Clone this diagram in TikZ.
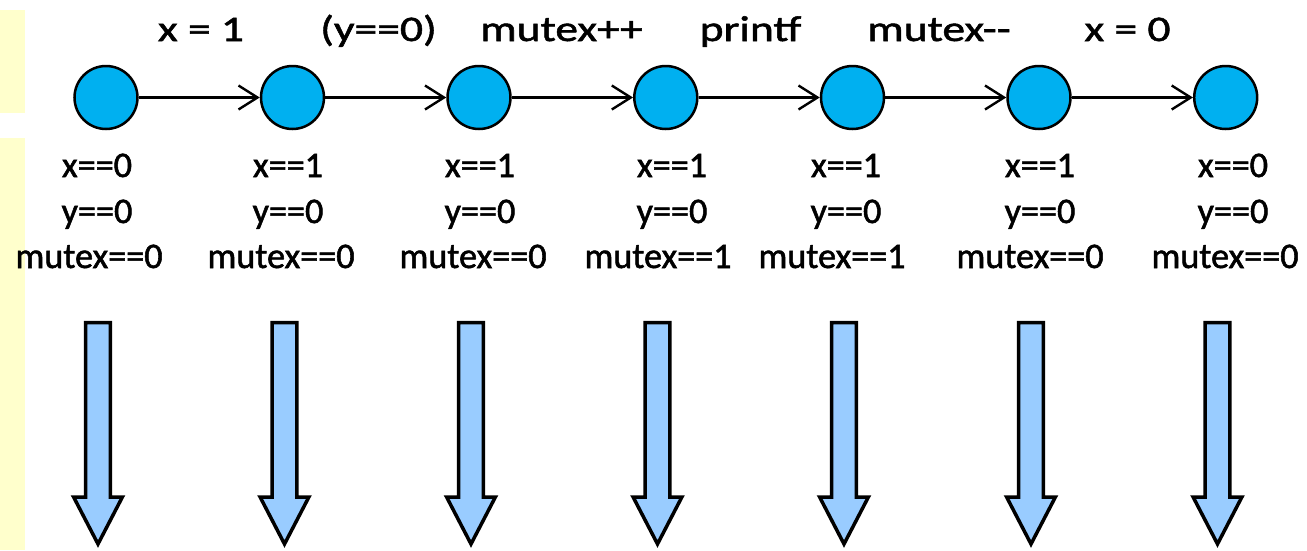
\documentclass[tikz,border=0pt]{standalone}
\usepackage{fontspec}
\setmainfont{Carlito}
\newfontfamily\toplabelfont{Carlito}[FakeStretch=1.265,FakeBold=1.5]
\newfontfamily\statefont{Carlito}[FakeStretch=1.005,FakeBold=1.5]
\usetikzlibrary{arrows.meta}
\definecolor{stripyellow}{HTML}{FFFFCC}
\definecolor{statecyan}{HTML}{00B0F0}
\definecolor{blockblue}{HTML}{99CCFF}
\begin{document}
\begin{tikzpicture}[x=1pt,y=-1pt,
  statecircle/.style={circle,draw=black,line width=2.5pt,fill=statecyan,minimum size=63pt,inner sep=0pt},
  trans/.style={line width=2.4pt,-{Straight Barb[length=19pt,width=24pt,line width=2.4pt]}},
  toplabel/.style={anchor=base,inner sep=0pt,font=\toplabelfont\fontsize{36}{43}\selectfont},
  statelabel/.style={anchor=base,inner sep=0pt,font=\statefont\fontsize{36}{43}\selectfont},
  blockarrow/.style={draw=black,line width=3.5pt,fill=blockblue,miter limit=10}
]
\useasboundingbox (0,0) rectangle (1307,550);
\fill[stripyellow] (0,10) rectangle (25,113);
\fill[stripyellow] (0,138) rectangle (25,550);

% states
\foreach \i/\cx in {1/106,2/292.5,3/479,4/665.8,5/852.5,6/1039,7/1225.7}{
  \node[statecircle] (s\i) at (\cx,97.5) {};
}
\foreach \a/\b in {1/2,2/3,3/4,4/5,5/6,6/7}{
  \draw[trans] (s\a) -- (s\b);
}

% transition labels
\node[toplabel] (t1) at (201,41) {x = 1};
\node[toplabel] (t2) at (378.5,41) {(y==0)};
\node[toplabel] (t3) at (561.5,41) {mutex++};
\node[toplabel] (t4) at (750.5,41) {printf};
\node[toplabel] (t5) at (939,41) {mutex{-}{-}};
\node[toplabel] (t6) at (1127.5,41) {x = 0};

% state labels
\foreach \i/\sx/\mx/\xv/\mv in {1/97/89/0/0,2/288/281/1/0,3/480/473/1/0,4/672/658/1/1,5/846/832/1/1,6/1040/1030/1/0,7/1233/1225/0/0}{
  \node[statelabel] (x\i) at (\sx,177) {x==\xv};
  \node[statelabel] (y\i) at (\sx,223) {y==0};
  \node[statelabel] (m\i) at (\mx,268) {mutex==\mv};
}

% block arrows
\foreach \i/\ax in {1/98,2/284.5,3/471,4/657.5,5/844,6/1031,7/1217.5}{
  \draw[blockarrow] (\ax-12.4,322.5) -- (\ax+12.4,322.5) -- (\ax+12.4,497)
    -- (\ax+24.4,497) -- (\ax,544) -- (\ax-24.4,497) -- (\ax-12.4,497) -- cycle;
}
\end{tikzpicture}
\end{document}
